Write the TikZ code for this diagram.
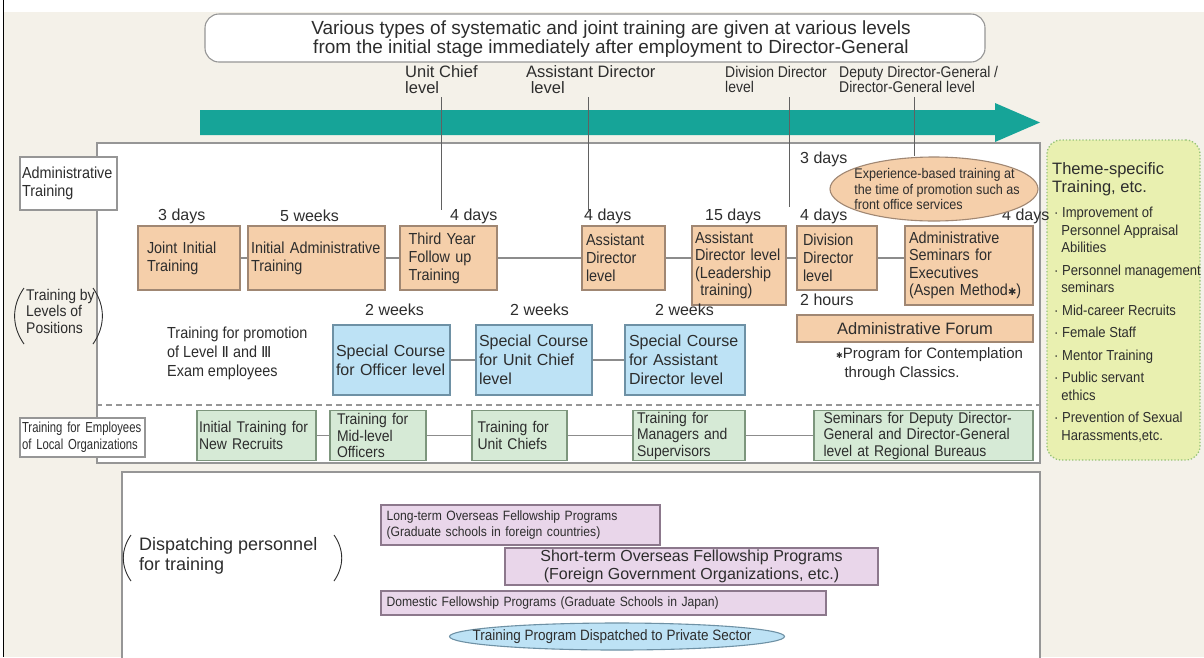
\documentclass[tikz,border=0pt]{standalone}
\usepackage{fontspec}
\setmainfont{Liberation Sans}
\newfontfamily\nf[FakeStretch=0.9]{Liberation Sans}
\newfontfamily\nnf[FakeStretch=0.78]{Liberation Sans}
\newfontfamily\dv{DejaVu Sans}
\usetikzlibrary{shapes.geometric}

\definecolor{bgbeige}{RGB}{244,241,233}
\definecolor{tealarrow}{RGB}{22,164,152}
\definecolor{peach}{RGB}{245,207,170}
\definecolor{peachline}{RGB}{160,135,115}
\definecolor{sky}{RGB}{189,226,245}
\definecolor{skyline}{RGB}{110,145,165}
\definecolor{mint}{RGB}{214,234,214}
\definecolor{mintline}{RGB}{125,150,125}
\definecolor{lav}{RGB}{233,214,234}
\definecolor{lavline}{RGB}{140,120,140}
\definecolor{lime}{RGB}{233,240,176}
\definecolor{limeline}{RGB}{150,195,120}
\definecolor{ink}{RGB}{45,45,45}
\definecolor{frame}{RGB}{150,150,150}
\definecolor{linkgray}{RGB}{140,140,140}

\begin{document}
\begin{tikzpicture}[x=1pt,y=-1pt,
  lab/.style={font=\fontsize{16}{18}\selectfont, text=ink, inner sep=0, anchor=west},
  lvl/.style={font=\nf\fontsize{15.5}{15.5}\selectfont, text=ink, inner sep=0, anchor=north west, align=left},
  lvlbig/.style={lvl, font=\fontsize{16.5}{16}\selectfont},
  boxbase/.style={draw, line width=1.1, inner sep=0, align=left, font=\nf\fontsize{16}{18}\selectfont, text=ink},
  obox/.style={boxbase, fill=peach, draw=peachline},
  bbox/.style={boxbase, fill=sky, draw=skyline, font=\fontsize{16}{19}\selectfont},
  gbox/.style={boxbase, fill=mint, draw=mintline, font=\nf\fontsize{15.5}{16.5}\selectfont},
  pbox/.style={boxbase, fill=lav, draw=lavline},
  wbox/.style={boxbase, fill=white, draw=frame},
  link/.style={draw=linkgray, line width=1.1},
  tick/.style={draw=ink!75, line width=0.9},
  paren/.style={draw=ink, line width=0.9},
]
\useasboundingbox (0,0) rectangle (1204,657);

% page background and frame
\fill[white] (0,0) rectangle (1204,657);
\fill[bgbeige] (4,12) rectangle (1204,657);
\draw[black, line width=1.6] (3.5,0) -- (3.5,657);

% heading
\node[draw=frame, line width=1.1, rounded corners=14, fill=white, minimum width=780, minimum height=48, inner sep=0] (head) at (595,38) {};
\node[align=center, inner sep=0, text=ink, font=\fontsize{19}{19}\selectfont] (headtxt) at (611,39)
  {Various types of systematic and joint training are given at various levels\\
   from the initial stage immediately after employment to Director-General};

% position levels
\node[lvlbig] (lv1) at (405,65) {Unit Chief\\level};
\node[lvlbig] (lv2) at (526,65) {Assistant Director\\\ level};
\node[lvl] (lv3) at (725,66) {Division Director\\level};
\node[lvl] (lv4) at (839,66) {Deputy Director-General /\\Director-General level};

% career arrow
\fill[tealarrow] (200,110) -- (995,110) -- (995,103) -- (1040,122.5) -- (995,142) -- (995,135) -- (200,135) -- cycle;

% main panel
\node[draw=frame, line width=1.3, fill=white, minimum width=943, minimum height=320, inner sep=0] (panel) at (568.5,303) {};
\draw[frame, line width=1.2, dash pattern=on 6pt off 4pt] (panel.west |- 0,405) coordinate (dl) -- (panel.east |- 0,405) coordinate (dr);

% theme-specific panel
\node[draw=limeline, line width=1.3, dotted, fill=lime, rounded corners=14, minimum width=153, minimum height=320, inner sep=0] (theme) at (1123.5,300) {};
\node[anchor=north west, inner sep=0, align=left, text=ink, font=\fontsize{16.5}{18.5}\selectfont] (themehead) at (1052,162)
  {Theme-specific\\Training, etc.};
\node[anchor=north west, inner sep=0, align=left, text=ink, font=\nf\fontsize{14.5}{17.5}\selectfont] (themelist) at (1054,207)
  {· Improvement of\\\ \ Personnel Appraisal\\\ \ Abilities\\[5pt]
   · Personnel management\\\ \ seminars\\[5pt]
   · Mid-career Recruits\\[5pt]
   · Female Staff\\[5pt]
   · Mentor Training\\[5pt]
   · Public servant\\\ \ ethics\\[5pt]
   · Prevention of Sexual\\\ \ Harassments,etc.};

% section labels on the left
\node[wbox, minimum width=97, minimum height=53, text width=93] (admin) at (68.5,183.5) {Administrative\\Training};
\node[anchor=north west, inner sep=0, align=left, text=ink, font=\nf\fontsize{15.5}{16.5}\selectfont] (bylevel) at (26,289) {Training by\\Levels of\\Positions};
\draw[paren] (24,288) to[bend right=35] (24,344);
\draw[paren] (93,288) to[bend left=35] (93,344);
\node[wbox, minimum width=125, minimum height=39, text width=121, font=\nnf\fontsize{14.5}{17}\selectfont] (local) at (82.5,437.5) {Training for Employees\\of Local Organizations};

% level marker lines
\coordinate (t1) at (441,97);  \coordinate (b1) at (441,210);
\coordinate (t2) at (588,97);  \coordinate (b2) at (588,210);
\coordinate (t3) at (789,97);  \coordinate (b3) at (789,207);
\coordinate (t4) at (914,97);
\draw[tick] (t1) -- (b1);
\draw[tick] (t2) -- (b2);
\draw[tick] (t3) -- (b3);

% duration labels of the top row
\node[lab] (d1) at (158,216) {3 days};
\node[lab] (d2) at (280,216) {5 weeks};
\node[lab] (d3) at (450,216) {4 days};
\node[lab] (d4) at (584,216) {4 days};
\node[lab] (d5) at (705,216) {15 days};
\node[lab] (d6) at (800,216) {4 days};
\node[lab] (d7) at (1002,216) {4 days};

% promotion experience
\node[lab] (d0) at (800,159) {3 days};
\node[ellipse, draw=peachline, line width=1.1, fill=peach, minimum width=208, minimum height=64, inner sep=0] (expell) at (934,189) {};
\draw[tick] (t4) -- (t4 |- expell.north);
\node[align=left, inner sep=0, text=ink, font=\nf\fontsize{14}{15.5}\selectfont] (exptxt) at (937,189)
  {Experience-based training at\\the time of promotion such as\\front office services};

% administrative training by level
\node[obox, minimum width=102, minimum height=64, text width=84] (j1) at (189,258) {Joint Initial\\Training};
\node[obox, minimum width=137, minimum height=64, text width=131] (j2) at (316.5,258) {Initial Administrative\\Training};
\node[obox, minimum width=97, minimum height=64, text width=80] (j3) at (448.5,258) {Third Year\\Follow up\\Training};
\node[obox, minimum width=83, minimum height=64, text width=75] (j4) at (623.5,258) {Assistant\\Director\\level};
\node[obox, minimum width=94, minimum height=79, text width=88, font=\nf\fontsize{16}{17.5}\selectfont] (j5) at (739,265.5) {Assistant\\Director level\\(Leadership\\\ training)};
\node[obox, minimum width=80, minimum height=64, text width=68] (j6) at (837,258) {Division\\Director\\level};
\node[obox, minimum width=128, minimum height=79, text width=120, font=\nf\fontsize{16}{17.5}\selectfont] (j7) at (969,265.5) {Administrative\\Seminars for\\Executives\\(Aspen Method{\dv\fontsize{10}{10}\selectfont ✱})};

\draw[link] (j1.east) -- (j2.west);
\draw[link] (j2.east) -- (j3.west);
\draw[link] (j3.east) -- (j4.west);
\draw[link] (j4.east) -- (j5.west |- j4.east);
\draw[link] (j5.east |- j6.west) -- (j6.west);
\draw[link] (j6.east) -- (j7.west |- j6.east);

% forum
\node[lab] (d8) at (800,300) {2 hours};
\node[obox, minimum width=236, minimum height=27, align=center, font=\fontsize{16.5}{18}\selectfont] (forum) at (915,328.5) {Administrative Forum};
\node[anchor=north west, inner sep=0, align=left, text=ink, font=\fontsize{15}{19}\selectfont] (note) at (836,347)
  {{\dv\fontsize{8}{8}\selectfont ✱}Program for Contemplation\\\ \ through Classics.};

% promotion of Level II and III employees
\node[anchor=north west, inner sep=0, align=left, text=ink, font=\nf\fontsize{16}{19}\selectfont] (promo) at (167,327)
  {Training for promotion\\of Level {\dv\fontsize{15}{15}\selectfont Ⅱ} and {\dv\fontsize{15}{15}\selectfont Ⅲ}\\Exam employees};
\node[lab] (w1) at (365,310) {2 weeks};
\node[lab] (w2) at (510,310) {2 weeks};
\node[lab] (w3) at (655,310) {2 weeks};
\node[bbox, minimum width=117, minimum height=70, text width=111] (s1) at (391.5,360) {Special Course\\for Officer level};
\node[bbox, minimum width=116, minimum height=70, text width=110] (s2) at (534,360) {Special Course\\for Unit Chief\\level};
\node[bbox, minimum width=120, minimum height=70, text width=112] (s3) at (685,360) {Special Course\\for Assistant\\Director level};
\draw[link] (s1.east) -- (s2.west);
\draw[link] (s2.east) -- (s3.west);

% local organizations
\node[gbox, minimum width=119, minimum height=50, text width=115] (g1) at (256.5,435.5) {Initial Training for\\New Recruits};
\node[gbox, minimum width=96, minimum height=50, text width=82] (g2) at (378,435.5) {Training for\\Mid-level\\Officers};
\node[gbox, minimum width=95, minimum height=50, text width=84] (g3) at (519.5,435.5) {Training for\\Unit Chiefs};
\node[gbox, minimum width=112, minimum height=50, text width=104] (g4) at (689,435.5) {Training for\\Managers and\\Supervisors};
\node[gbox, minimum width=219, minimum height=50, text width=200] (g5) at (923.5,435.5) {Seminars for Deputy Director-\\General and Director-General\\level at Regional Bureaus};
\draw[link] (g1.east) -- (g2.west);
\draw[link] (g2.east) -- (g3.west);
\draw[link] (g3.east) -- (g4.west);
\draw[link] (g4.east) -- (g5.west);

% dispatching personnel
\node[draw=frame, line width=1.3, fill=white, minimum width=918, minimum height=190, inner sep=0] (disp) at (581,567) {};
\node[anchor=north west, inner sep=0, align=left, text=ink, font=\fontsize{18}{20}\selectfont] (disptxt) at (139,537) {Dispatching personnel\\for training};
\draw[paren] (131,535) to[bend right=35] (131,581);
\draw[paren] (334,535) to[bend left=35] (334,581);
\node[pbox, minimum width=279, minimum height=40, text width=268, font=\nf\fontsize{13.5}{16.5}\selectfont] (p1) at (520.5,525)
  {Long-term Overseas Fellowship Programs\\(Graduate schools in foreign countries)};
\node[pbox, minimum width=373, minimum height=37, align=center, font=\fontsize{16}{18}\selectfont] (p2) at (691.5,566.5)
  {Short-term Overseas Fellowship Programs\\(Foreign Government Organizations, etc.)};
\node[pbox, minimum width=445, minimum height=24, text width=434, font=\nf\fontsize{13.5}{16}\selectfont] (p3) at (603.5,603)
  {Domestic Fellowship Programs (Graduate Schools in Japan)};
\node[ellipse, draw=skyline, line width=1.1, fill=sky, minimum width=335, minimum height=27, inner sep=0] (priv) at (617,636.5) {};
\node[inner sep=0, text=ink, font=\nf\fontsize{15}{16}\selectfont] (privtxt) at (612,636.5) {Training Program Dispatched to Private Sector};
\end{tikzpicture}
\end{document}
